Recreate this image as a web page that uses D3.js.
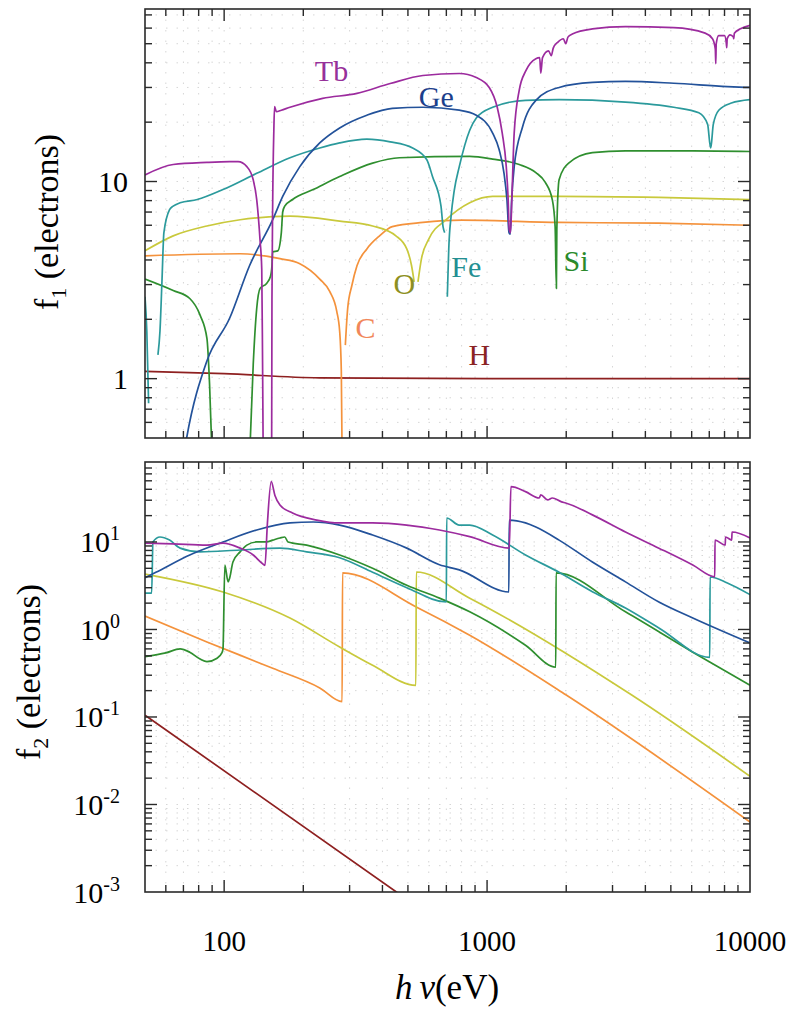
<!DOCTYPE html>
<html lang="en">
<head>
<meta charset="UTF-8">
<title>Atomic scattering factors f1, f2</title>
<style>
  body { margin: 0; background: #fff; }
  svg { display: block; font-family: "Liberation Serif", "DejaVu Serif", serif; }
  .frame { fill: none; stroke: #2a2a2a; stroke-width: 1.6px; }
  .tick { stroke: #2a2a2a; stroke-width: 1.4px; }
  .grid { stroke: #d6d6d6; stroke-width: 1px; stroke-dasharray: 1.5,9; }
  .curve { fill: none; stroke-width: 1.7px; stroke-linejoin: round; }
</style>
</head>
<body>
<svg width="795" height="1013"></svg>
<script src="https://cdn.jsdelivr.net/npm/d3@7"></script>
<script>
(function() {
    'use strict';

    // energies in eV, values in electrons; null = break (f1 < 0)
    var elements = ["H", "C", "O", "Si", "Fe", "Ge", "Tb"];
    var energyTicks = [100, 1000, 10000];
    var f1Ticks = [1, 10];
    var f2Ticks = [1e-3, 1e-2, 1e-1, 1, 10];
    var f2TickExp = ["-3", "-2", "-1", "0", "1"];

    var f1H = [[50,1.09],[100,1.06],[230,1.01],[1000,1.0],[10000,1.0]];
    var f1C = [[50,4.2],[115,4.3],[163,4.06],[194,3.83],[231,3.2],[252,2.77],[268,2.2],[275,1.74],[279,1.1],[281,0.4],
               [285,null],[289,1.48],[295,2.27],[306,2.97],[320,3.74],[349,4.55],[390,5.3],[436,5.9],[570,6.2],[800,6.37],
               [1879,6.2],[4503,6.15],[10000,6.0]];
    var f1O = [[50,4.45],[64,5.3],[86,5.95],[115,6.4],[178,6.67],[275,6.3],[367,5.95],[450,5.3],[495,4.55],[516,3.75],
               [528,3.1],[537,null],[546,3.1],[563,4.06],[600,5.1],[699,6.4],[859,7.8],[1050,8.4],[1879,8.4],[4503,8.3],
               [10000,8.1]];
    var f1Si = [[50,3.2],[64,2.8],[74,2.55],[81,2.1],[86,1.6],[88,0.94],[90,0.4],[100,null],[125,0.4],[129,1.18],
                [133,2.27],[137,2.87],[145,3.04],[150,3.3],[152,3.75],[153,4.4],[160,4.45],[165,5.5],[167,7.0],[170,7.5],
                [182,8.1],[218,9.1],[275,10.6],[367,12.4],[464,13.2],[859,13.4],[1050,13.0],[1325,12.2],[1533,11.1],
                [1665,9.9],[1770,8.1],[1815,5.9],[1835,2.87],[1842,5.7],[1879,10.2],[2044,12.4],[2515,14],[3360,14.3],
                [6060,14.3],[10000,14.2]];
    var f1Fe = [[50,2.6],[50.8,1.74],[51.6,0.75],[52,null],[56,1.32],[57,1.74],[58,3.1],[59,5.5],[62,7.2],[64,7.5],
                [68,7.8],[79,8.1],[99,9.1],[133,11.0],[178,13.2],[231,14.8],[275,15.7],[349,16.4],[428,15.9],[521,14.8],
                [590,12.9],[620,10.6],[668,7.5],[680,5.9],[690,5.5],[697,null],[706,2.6],[711,3.6],[715,4.55],[730,6.7],
                [750,9],[784,11.9],[859,18.2],[910,21],[1050,23.8],[1400,25.8],[1879,26],[3360,25.3],[5130,23.8],
                [6388,22.3],[6900,19.5],[7080,14.8],[7130,15.5],[7250,19.5],[7608,23],[8500,25],[10000,26]];
    var f1Ge = [[70,0.4],[72,0.5],[86,1.23],[105,2.03],[125,3.75],[153,6.4],[167,8.4],[194,11.9],[231,15.7],[275,18.7],
                [349,21.7],[436,23.5],[570,23.8],[784,23.0],[910,21.7],[1050,17.6],[1112,14.5],[1160,11.0],[1190,8.1],
                [1212,5.5],[1225,5.4],[1240,8.0],[1268,11.9],[1364,18.9],[1533,25.8],[1879,30],[2515,31.8],[3360,32.2],
                [5130,31.5],[8200,30.3],[10000,30]];
    var f1Tb = [[50,10.8],[64,12.2],[86,12.5],[105,12.6],[113,12.6],[122,11.9],[129,10.2],[133,8.1],[137,5.0],[139,3.6],
                [140,1.2],[141,0.3],[146,null],[151.5,0.3],[152,2.5],[153,8],[154.5,18],[155.5,24],[158,22.6],[165,23],
                [178,23.8],[237,26.4],[320,28],[428,31.4],[570,34.5],[784,35.3],[910,33.7],[1019,30],[1093,23.8],
                [1142,17.6],[1183,11.9],[1203,8.1],[1214,5.7],[1228,5.5],[1242,8.1],[1268,17.6],[1325,29],[1405,36.5],
                [1533,42],[1585,42.5],[1601,35.5],[1625,42.5],[1713,46],[1755,43.5],[1785,47.5],[1860,51],[1950,53],
                [1992,50],[2030,54],[2110,56],[2515,59.4],[3360,61],[5130,60.3],[6750,56.6],[7200,53],[7380,47],
                [7410,39.6],[7440,50],[7600,55],[8000,55],[8130,50],[8155,47.7],[8190,53],[8400,55.5],[8650,54],
                [8670,53],[8720,56.5],[9200,59.5],[10000,62]];

    var f2H = [[50,0.105],[452,0.001],[600,0.00055]];
    var f2C = [[50,1.42],[86,0.72],[153,0.36],[231,0.215],[281,0.15],[282,4.43],[540,1.8],[859,0.86],[2000,0.178],
               [10000,0.0063]];
    var f2O = [[50,4.3],[99,2.68],[178,1.35],[275,0.63],[367,0.39],[536,0.23],[538,4.54],[859,2.28],[3550,0.178],
               [10000,0.021]];
    var f2Si = [[50,0.49],[60,0.54],[68,0.6],[74,0.55],[81,0.46],[86,0.43],[94,0.47],[98,0.54],[99,0.6],[100.6,5.45],
                [103.5,3.5],[105,3.9],[108,5.9],[115,7.7],[122,9.2],[133,10],[145,10],[153,10.5],[163,11.1],[170,11.4],
                [175,10],[206,9.2],[275,7.1],[367,5.0],[495,3.2],[659,2.28],[859,1.59],[1400,0.66],[1825,0.37],
                [1830,4.43],[3360,1.59],[6060,0.55],[10000,0.23]];
    var f2Fe = [[50,2.6],[53,2.6],[53.6,10],[57,11.4],[62,10.5],[68,8.5],[81,7.7],[115,8.1],[163,8.5],[206,7.7],
                [275,6.6],[367,4.5],[495,3.0],[700,2.06],[702,18.8],[784,15.6],[859,15.6],[1050,12.0],[1400,7.1],
                [1879,4.5],[2515,2.7],[3360,1.76],[4503,1.04],[7030,0.48],[7050,3.98],[8200,3.4],[10000,2.5]];
    var f2Ge = [[50,3.9],[55,4.5],[74,7.1],[99,10],[133,13.7],[178,16.5],[218,16.9],[275,15.6],[367,12.0],[495,8.5],
                [659,5.5],[784,4.8],[1210,2.68],[1214,17.8],[1400,16.5],[1533,14.8],[1879,10.5],[2515,5.9],[3360,3.5],
                [4503,2.06],[6060,1.35],[10000,0.70]];
    var f2Tb = [[50,9.7],[64,9.5],[86,9.2],[99,9.7],[115,8.5],[129,7.1],[139,5.75],[143,5.4],[146,16],[151,48.9],
                [156,34],[163,26.5],[182,21.4],[225,17.8],[275,16.5],[367,16.5],[495,15.6],[659,13.7],[859,11.5],
                [1215,8.5],[1232,42.8],[1400,37.6],[1578,31.8],[1601,34.5],[1700,30.2],[1770,31.8],[1920,28.7],
                [1990,27.9],[2515,20.4],[3360,13.0],[4503,8.5],[6060,5.45],[7345,4.0],[7360,10.5],[8050,9.2],
                [8070,11.4],[8520,10.5],[8545,13.0],[10000,11.1]];

    var f1Data = { H: f1H, C: f1C, O: f1O, Si: f1Si, Fe: f1Fe, Ge: f1Ge, Tb: f1Tb };
    var f2Data = { H: f2H, C: f2C, O: f2O, Si: f2Si, Fe: f2Fe, Ge: f2Ge, Tb: f2Tb };

    var lineColor = { H: "#8e2020", C: "#f4923c", O: "#c9c93c", Si: "#2f8f2f", Fe: "#2b9a9c", Ge: "#23529a", Tb: "#9c2b9e" };
    var textColor = { H: "#8a2323", C: "#f1875a", O: "#8d8f22", Si: "#2b8a2b", Fe: "#238f92", Ge: "#1c3f8c", Tb: "#96309a" };
    // label anchors (energy, f1), middle / baseline
    var labelAt = { Tb: [256, 32.2], Ge: [641, 23.8], Fe: [833, 3.29], Si: [2180, 3.53], O: [485, 2.7], C: [345, 1.61], H: [934, 1.17] };

    var svg = d3.select("svg");
    var L = 145, R = 750;

    var x = d3.scaleLog().domain([50, 10000]).range([L, R]);
    var yTop = d3.scaleLog().domain([0.5, 75]).range([438, 9]);
    var yBot = d3.scaleLog().domain([1e-3, 82]).range([892, 462]);

    function isMajor(v) {
        var e = Math.log10(v);
        return Math.abs(e - Math.round(e)) < 1e-6;
    }

    function panel(id, y, data) {
        var y0 = y.range()[0], y1 = y.range()[1];
        var g = svg.append("g");

        svg.append("clipPath").attr("id", id)
            .append("rect").attr("x", L).attr("y", y1).attr("width", R - L).attr("height", y0 - y1);

        var xt = x.ticks().filter(function(v) { return x(v) > L + 1 && x(v) < R - 1; });
        var yt = y.ticks().filter(function(v) { return y(v) < y0 - 1 && y(v) > y1 + 1; });

        g.selectAll(".gx").data(xt).enter().append("line")
            .attr("class", "grid")
            .attr("x1", function(d) { return x(d); }).attr("x2", function(d) { return x(d); })
            .attr("y1", y1).attr("y2", y0);
        g.selectAll(".gy").data(yt).enter().append("line")
            .attr("class", "grid")
            .attr("x1", L).attr("x2", R)
            .attr("y1", function(d) { return y(d); }).attr("y2", function(d) { return y(d); });

        var line = d3.line()
            .defined(function(d) { return d[1] != null; })
            .curve(d3.curveMonotoneX)
            .x(function(d) { return x(d[0]); })
            .y(function(d) { return y(d[1]); });

        g.append("g").attr("clip-path", "url(#" + id + ")")
            .selectAll("path").data(elements).enter().append("path")
            .attr("class", "curve")
            .attr("stroke", function(d) { return lineColor[d]; })
            .attr("d", function(d) { return line(data[d]); });

        // inward ticks on all four sides
        xt.forEach(function(v) {
            var len = isMajor(v) ? 12 : 7;
            g.append("line").attr("class", "tick").attr("x1", x(v)).attr("x2", x(v)).attr("y1", y0).attr("y2", y0 - len);
            g.append("line").attr("class", "tick").attr("x1", x(v)).attr("x2", x(v)).attr("y1", y1).attr("y2", y1 + len);
        });
        yt.forEach(function(v) {
            var len = isMajor(v) ? 12 : 7;
            g.append("line").attr("class", "tick").attr("x1", L).attr("x2", L + len).attr("y1", y(v)).attr("y2", y(v));
            g.append("line").attr("class", "tick").attr("x1", R).attr("x2", R - len).attr("y1", y(v)).attr("y2", y(v));
        });

        g.append("rect").attr("class", "frame")
            .attr("x", L).attr("y", y1).attr("width", R - L).attr("height", y0 - y1);
        return g;
    }

    var top = panel("clipTop", yTop, f1Data);
    panel("clipBot", yBot, f2Data);

    // element names on the f1 panel
    top.selectAll(".elab").data(elements).enter().append("text")
        .attr("x", function(d) { return x(labelAt[d][0]); })
        .attr("y", function(d) { return yTop(labelAt[d][1]); })
        .attr("text-anchor", "middle")
        .attr("font-size", 30)
        .attr("fill", function(d) { return textColor[d]; })
        .text(function(d) { return d; });

    // tick labels
    svg.selectAll(".xl").data(energyTicks).enter().append("text")
        .attr("x", function(d) { return x(d); })
        .attr("y", 951)
        .attr("text-anchor", "middle")
        .attr("font-size", 29)
        .text(function(d) { return d; });

    svg.selectAll(".yl1").data(f1Ticks).enter().append("text")
        .attr("x", 128)
        .attr("y", function(d) { return yTop(d); })
        .attr("dy", "0.35em")
        .attr("text-anchor", "end")
        .attr("font-size", 30)
        .text(function(d) { return d; });

    var yl2 = svg.selectAll(".yl2").data(f2Ticks).enter().append("text")
        .attr("x", 120)
        .attr("y", function(d) { return yBot(d); })
        .attr("dy", "0.35em")
        .attr("text-anchor", "end")
        .attr("font-size", 30);
    yl2.append("tspan").text("10");
    yl2.append("tspan")
        .attr("font-size", 20)
        .attr("dy", -12)
        .text(function(d, i) { return f2TickExp[i]; });

    // axis titles
    var xt = svg.append("text")
        .attr("x", 447).attr("y", 999)
        .attr("text-anchor", "middle")
        .attr("font-size", 35);
    xt.append("tspan").attr("font-style", "italic").text("h\u2009\u03bd");
    xt.append("tspan").text("(eV)");

    function yTitle(cx, cy, sub) {
        var t = svg.append("text")
            .attr("transform", "translate(" + cx + "," + cy + ") rotate(-90)")
            .attr("text-anchor", "middle")
            .attr("dy", "0.35em")
            .attr("font-size", 34);
        t.append("tspan").text("f");
        t.append("tspan").attr("font-size", 22).attr("dy", 8).text(sub);
        t.append("tspan").attr("dy", -8).text(" (electrons)");
    }
    yTitle(46, 222, "1");
    yTitle(28, 672, "2");
})();
</script>
</body>
</html>
